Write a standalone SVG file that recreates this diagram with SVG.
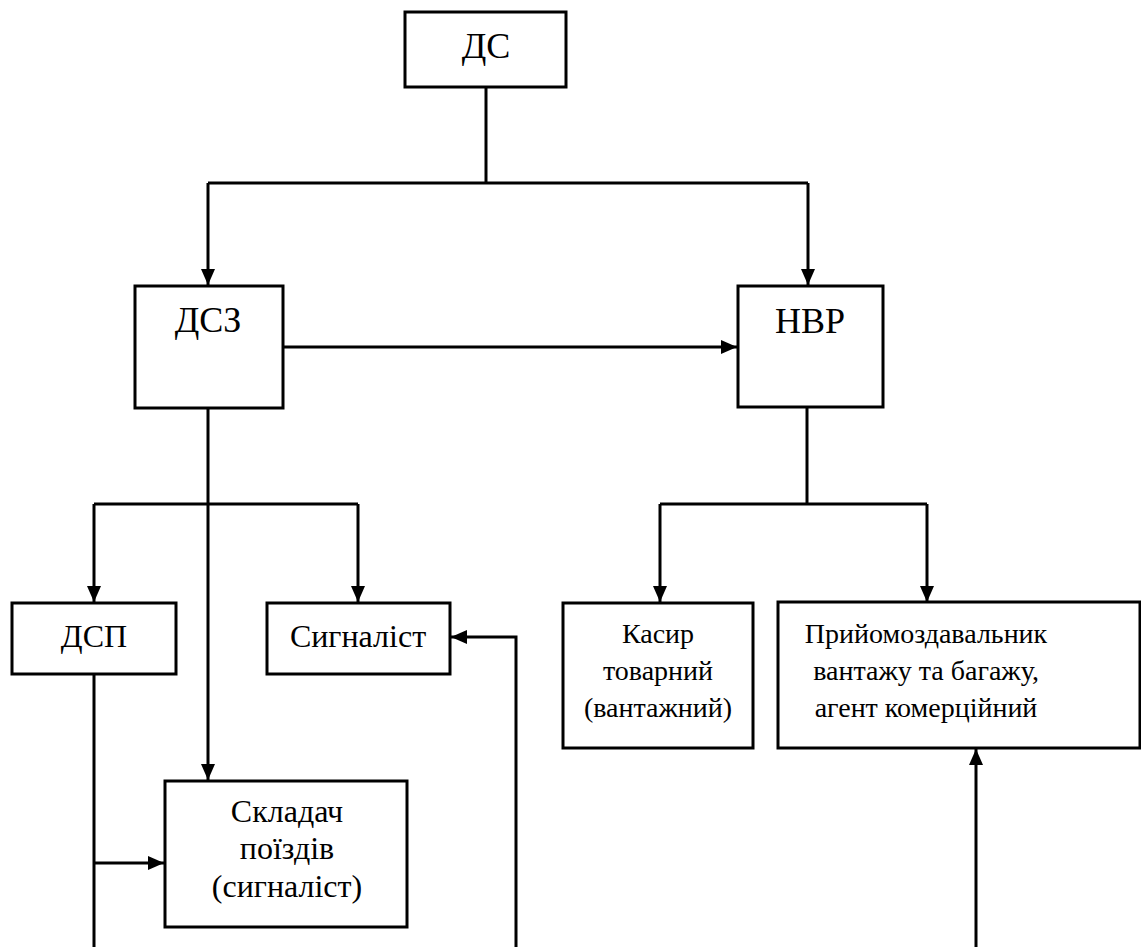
<svg xmlns="http://www.w3.org/2000/svg" width="1141" height="947" viewBox="0 0 1141 947">
<style>
.box{fill:#fff;stroke:#000;stroke-width:3}
.ln{fill:none;stroke:#000;stroke-width:3}
text{font-family:'Liberation Serif','Times New Roman','DejaVu Serif',serif;fill:#000;text-anchor:middle}
.big{font-size:36px}
.sm{font-size:28px}
.md{font-size:32px}
</style>
<defs>
<marker id="ah" markerUnits="userSpaceOnUse" markerWidth="16" markerHeight="16" viewBox="0 0 16 16" refX="16" refY="8" orient="auto">
<path d="M0,1 L16,8 L0,15 Z" fill="#000"/>
</marker>
</defs>
<rect width="1141" height="947" fill="#fff"/>
<g id="connectors">
<path class="ln" d="M486,87 V183"/>
<path class="ln" d="M208,183 H808"/>
<path class="ln" d="M208,183 V285" marker-end="url(#ah)"/>
<path class="ln" d="M808,183 V285" marker-end="url(#ah)"/>
<path class="ln" d="M283,347 H737" marker-end="url(#ah)"/>
<path class="ln" d="M208,408 V780" marker-end="url(#ah)"/>
<path class="ln" d="M94,504 H358"/>
<path class="ln" d="M94,504 V602" marker-end="url(#ah)"/>
<path class="ln" d="M358,504 V602" marker-end="url(#ah)"/>
<path class="ln" d="M807,407 V504"/>
<path class="ln" d="M660,504 H927"/>
<path class="ln" d="M660,504 V602" marker-end="url(#ah)"/>
<path class="ln" d="M927,504 V602" marker-end="url(#ah)"/>
<path class="ln" d="M94,674 V947"/>
<path class="ln" d="M94,863 H164" marker-end="url(#ah)"/>
<path class="ln" d="M516,947 V637 H451" marker-end="url(#ah)"/>
<path class="ln" d="M976,947 V749" marker-end="url(#ah)"/>
</g>
<g id="ds">
<rect class="box" x="405" y="12" width="161" height="75"/>
<text class="big" x="486" y="58">ДС</text>
</g>
<g id="dsz">
<rect class="box" x="135" y="286" width="148" height="122"/>
<text class="big" x="208" y="332">ДСЗ</text>
</g>
<g id="nvr">
<rect class="box" x="738" y="286" width="145" height="121"/>
<text class="big" x="810" y="333">НВР</text>
</g>
<g id="dsp">
<rect class="box" x="12" y="603" width="164" height="71"/>
<text class="md" x="94" y="647">ДСП</text>
</g>
<g id="syhnalist">
<rect class="box" x="267" y="603" width="183" height="71"/>
<text class="md" x="358" y="647">Сигналіст</text>
</g>
<g id="kasyr">
<rect class="box" x="563" y="603" width="190" height="145"/>
<text class="sm" x="658" y="643">Касир</text>
<text class="sm" x="658" y="680">товарний</text>
<text class="sm" x="658" y="717">(вантажний)</text>
</g>
<g id="pryiom">
<rect class="box" x="778" y="602" width="362" height="146"/>
<text class="sm" x="926" y="643">Прийомоздавальник</text>
<text class="sm" x="926" y="680">вантажу та багажу,</text>
<text class="sm" x="926" y="717">агент комерційний</text>
</g>
<g id="skladach">
<rect class="box" x="165" y="781" width="242" height="146"/>
<text class="md" x="287" y="822">Складач</text>
<text class="md" x="287" y="859">поїздів</text>
<text class="md" x="287" y="897">(сигналіст)</text>
</g>
</svg>
